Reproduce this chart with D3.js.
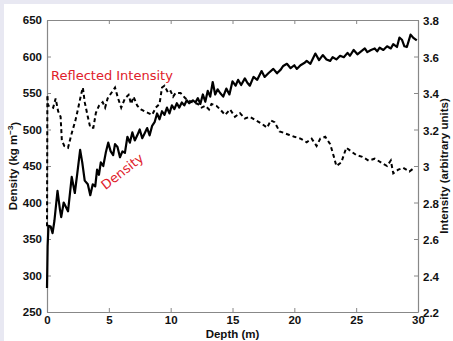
<!DOCTYPE html>
<html><head><meta charset="utf-8">
<script src="https://cdn.jsdelivr.net/npm/d3@7"></script>
<style>
html,body{margin:0;padding:0;background:#e8e8f2;}
svg{display:block;}
</style></head>
<body>
<script>
// Depth (m) and density (kg m^-3) — solid line
const densityDepth = [0,0.05,0.12,0.3,0.45,0.6,0.85,1.05,1.15,1.35,1.5,1.7,2.0,2.25,2.45,2.68,2.85,3.05,3.3,3.5,3.7,3.9,4.05,4.2,4.35,4.55,4.75,4.95,5.15,5.35,5.5,5.7,5.9,6.1,6.3,6.5,6.7,6.9,7.1,7.3,7.5,7.7,7.9,8.1,8.3,8.5,8.7,8.9,9.1,9.3,9.5,9.7,9.9,10.1,10.3,10.5,10.7,10.9,11.1,11.3,11.5,11.8,12.0,12.2,12.4,12.6,12.8,13.0,13.2,13.4,13.6,13.8,14.0,14.25,14.5,14.75,15.0,15.25,15.45,15.7,16.0,16.2,16.4,16.7,17.0,17.35,17.6,17.9,18.3,18.6,18.9,19.1,19.4,19.7,20.0,20.2,20.5,20.8,21.0,21.3,21.7,22.0,22.3,22.6,22.9,23.1,23.4,23.7,24.0,24.3,24.5,24.8,25.1,25.4,25.7,25.9,26.2,26.5,26.7,26.9,27.2,27.5,27.8,28.0,28.3,28.5,28.7,28.9,29.1,29.4,29.6,29.9];
const densityValues = [283,340,368,367,358,375,416,390,380,400,395,388,435,413,440,472,455,430,425,410,425,422,445,438,455,450,468,482,470,465,480,476,462,470,468,490,482,496,485,492,500,488,495,502,492,505,510,522,514,525,520,530,522,533,528,536,530,537,533,540,536,540,537,543,535,548,538,553,545,565,548,555,
550,545,556,548,566,560,568,561,570,564,560,572,568,580,572,577,583,577,582,587,590,584,588,583,588,591,594,590,604,595,602,596,594,599,596,601,599,605,601,609,603,607,611,606,609,611,607,612,609,614,611,617,613,626,623,614,613,630,626,622];

// Depth (m) and reflected intensity (arbitrary units) — dashed line
const intensityDepth = [0,0.03,0.08,0.25,0.5,0.7,0.9,1.1,1.2,1.4,1.7,2.0,2.3,2.5,2.75,2.9,3.05,3.3,3.5,3.75,3.95,4.2,4.5,4.7,4.9,5.2,5.5,5.75,6.0,6.3,6.6,6.8,7.0,7.3,7.6,7.9,8.2,8.5,8.8,9.1,9.3,9.5,9.8,10.0,10.2,10.4,10.8,11.2,11.7,12.2,12.5,12.8,13.1,13.3,13.7,14.0,14.4,14.8,15.2,15.6,16.0,16.4,16.9,17.4,17.8,18.1,18.4,18.8,19.2,19.6,20.0,20.5,21.0,21.4,21.8,22.1,22.5,22.9,23.2,23.4,23.8,24.2,24.6,25.0,25.5,26.0,26.5,27.0,27.5,27.8,28.0,28.4,28.8,29.3,29.7];
const intensityValues = [2.67,3.39,3.33,3.33,3.32,3.37,3.30,3.27,3.14,3.11,3.10,3.18,3.25,3.31,3.39,3.43,3.35,3.27,3.21,3.21,3.29,3.33,3.35,3.32,3.37,3.40,3.43,3.37,3.32,3.37,3.39,3.34,3.38,3.33,3.31,3.30,3.29,3.28,3.32,3.34,3.43,3.44,3.40,3.41,3.38,3.40,3.40,3.37,3.35,3.34,3.32,3.33,3.31,3.34,3.33,3.31,3.28,3.31,3.27,3.29,3.26,3.27,3.25,3.23,3.21,3.25,3.24,3.19,3.18,3.17,3.16,3.15,3.13,3.15,3.11,3.15,3.16,3.12,3.05,3.00,3.02,3.10,3.08,3.06,3.05,3.03,3.04,3.02,3.00,3.03,2.96,2.98,2.99,2.97,2.99];

const depthTicks = [0,5,10,15,20,25,30];
const densityTicks = [250,300,350,400,450,500,550,600,650];
const intensityTicks = [2.2,2.4,2.6,2.8,3,3.2,3.4,3.6,3.8];

const W = 453, H = 341;
const m = {left:47, right:418, top:20, bottom:312};

const svg = d3.select("body").append("svg").attr("width",W).attr("height",H);
svg.append("rect").attr("x",4).attr("y",4).attr("width",W-4).attr("height",H-4).attr("fill","#fff");

const x = d3.scaleLinear().domain([0,30]).range([m.left,m.right]);
const yL = d3.scaleLinear().domain([250,650]).range([m.bottom,m.top]);
const yR = d3.scaleLinear().domain([2.2,3.8]).range([m.bottom,m.top]);

const fmtR = d => (d===3 ? "3" : d3.format(".1f")(d));
const tickFont = "Liberation Sans, Arial, sans-serif";

function styleAxis(g){
  g.selectAll(".domain").attr("stroke","#888").attr("stroke-width",1.2);
  g.selectAll(".tick line").attr("stroke","#888");
  g.selectAll(".tick text").attr("fill","#111").style("font-family",tickFont).style("font-size","11.5px").style("font-weight","bold");
}

const gx = svg.append("g").attr("transform",`translate(0,${m.bottom})`)
  .call(d3.axisBottom(x).tickValues(depthTicks).tickSizeInner(-4).tickSizeOuter(0).tickPadding(4));
styleAxis(gx);
const gxt = svg.append("g").attr("transform",`translate(0,${m.top})`)
  .call(d3.axisTop(x).tickValues(depthTicks).tickSizeInner(-4).tickSizeOuter(0).tickFormat(""));
styleAxis(gxt);
const gl = svg.append("g").attr("transform",`translate(${m.left},0)`)
  .call(d3.axisLeft(yL).tickValues(densityTicks).tickSizeInner(-4).tickSizeOuter(0).tickPadding(5));
styleAxis(gl);
const gr = svg.append("g").attr("transform",`translate(${m.right},0)`)
  .call(d3.axisRight(yR).tickValues(intensityTicks).tickFormat(fmtR).tickSizeInner(-4).tickSizeOuter(0).tickPadding(5));
styleAxis(gr);
gr.selectAll(".tick text").attr("dy","0.4em");

const plot = svg.append("g");
const densData = densityDepth.map((d,i)=>[d,densityValues[i]]);
const intData = intensityDepth.map((d,i)=>[d,intensityValues[i]]);

plot.append("path").datum(intData)
  .attr("d", d3.line().x(d=>x(d[0])).y(d=>yR(d[1])))
  .attr("fill","none").attr("stroke","#000").attr("stroke-width",2)
  .attr("stroke-dasharray","4,3");
plot.append("path").datum(densData)
  .attr("d", d3.line().x(d=>x(d[0])).y(d=>yL(d[1])))
  .attr("fill","none").attr("stroke","#000").attr("stroke-width",2.2)
  .attr("stroke-linejoin","round");

// annotations
svg.append("text").attr("x",51).attr("y",80).text("Reflected Intensity")
  .attr("fill","#e0202a").style("font-family","DejaVu Sans, sans-serif").style("font-size","13px");
svg.append("text").attr("transform","translate(125,175) rotate(-38)").attr("text-anchor","middle")
  .text("Density").attr("fill","#e0202a").style("font-family","DejaVu Sans, sans-serif").style("font-size","13px");

// axis titles
const titleStyle = s => s.attr("fill","#111").style("font-family",tickFont).style("font-size","11.5px").style("font-weight","bold");
svg.append("text").attr("x",(m.left+m.right)/2).attr("y",338).attr("text-anchor","middle").text("Depth (m)").call(titleStyle);
const lt = svg.append("text").attr("transform",`translate(17,${(m.top+m.bottom)/2}) rotate(-90)`).attr("text-anchor","middle").call(titleStyle);
lt.append("tspan").text("Density (kg m");
lt.append("tspan").attr("dy","-0.45em").style("font-size","8px").text("−3");
lt.append("tspan").attr("dy","0.45em").text(")");
svg.append("text").attr("transform",`translate(448,${(m.top+m.bottom)/2}) rotate(-90)`).attr("text-anchor","middle").text("Intensity (arbitrary units)").call(titleStyle);
</script>
</body></html>
